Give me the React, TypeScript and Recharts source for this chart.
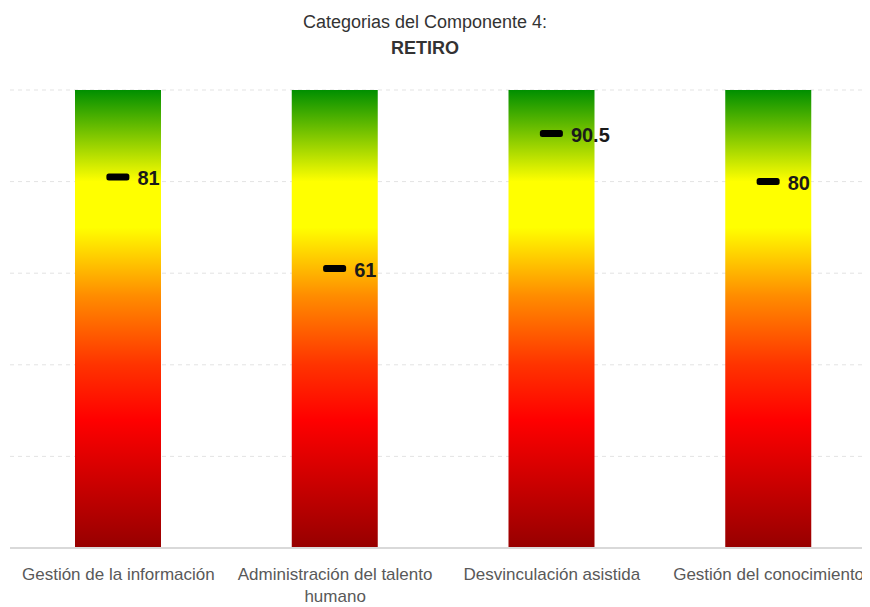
import React from 'react';
import { ComposedChart, Bar, Scatter, XAxis, YAxis, CartesianGrid, Text } from 'recharts';

// Categorías y puntajes (escala 0-100)
const categories = [
  'Gestión de la información',
  'Administración del talento humano',
  'Desvinculación asistida',
  'Gestión del conocimiento',
];
const scores = [81, 61, 90.5, 80];
const scaleMax = [100, 100, 100, 100];
const yTicks = [0, 20, 40, 60, 80, 100];

const data = categories.map((name, i) => ({ name, max: scaleMax[i], value: scores[i] }));

const FONT = '"Liberation Sans Narrow", "Liberation Sans", Arial, sans-serif';

const CategoryTick = (props: any) => {
  const { x, y, payload } = props;
  return (
    <Text
      x={x}
      y={y + 12}
      width={200}
      textAnchor="middle"
      verticalAnchor="start"
      fontFamily={FONT}
      fontSize={17}
      fill="#595959"
      lineHeight={22}
    >
      {payload.value}
    </Text>
  );
};

const Marker = (props: any) => {
  const { cx, cy, payload } = props;
  if (cx == null || cy == null) return null;
  return (
    <g>
      <rect x={cx - 12} y={cy - 3.5} width={23} height={7} rx={2.5} fill="#000" />
      <text
        x={cx + 19}
        y={cy + 1}
        dominantBaseline="central"
        fontFamily={FONT}
        fontWeight="bold"
        fontSize={20}
        fill="#1a1a1a"
      >
        {payload.value}
      </text>
    </g>
  );
};

export default function App() {
  return (
    <div style={{ position: 'relative', width: 862, height: 599, overflow: 'hidden', fontFamily: FONT }}>
      <div
        style={{
          position: 'absolute',
          left: 0,
          width: 834,
          top: 1,
          textAlign: 'center',
          color: '#333',
          fontSize: 18,
          lineHeight: '26px',
        }}
      >
        <div>Categorias del Componente 4:</div>
        <div style={{ fontWeight: 'bold' }}>RETIRO</div>
      </div>
      <ComposedChart
        width={869}
        height={599}
        data={data}
        margin={{ top: 82, right: 0, bottom: 0, left: 2 }}
      >
        <defs>
          <linearGradient id="semaforo" x1="0" y1="0" x2="0" y2="1">
            <stop offset="0%" stopColor="#008f00" />
            <stop offset="20%" stopColor="#ffff00" />
            <stop offset="30%" stopColor="#ffff00" />
            <stop offset="45%" stopColor="#ff8c00" />
            <stop offset="60%" stopColor="#ff3300" />
            <stop offset="72%" stopColor="#ff0000" />
            <stop offset="100%" stopColor="#960000" />
          </linearGradient>
        </defs>
        <CartesianGrid vertical={false} stroke="#e3e3e3" strokeDasharray="4 4" />
        <XAxis
          dataKey="name"
          interval={0}
          height={59}
          tickLine={false}
          axisLine={{ stroke: '#d9d9d9', strokeWidth: 2 }}
          tick={<CategoryTick />}
        />
        <YAxis hide domain={[0, 100]} ticks={yTicks} width={0} />
        <Bar dataKey="max" barSize={86} fill="url(#semaforo)" isAnimationActive={false} />
        <Scatter dataKey="value" shape={<Marker />} isAnimationActive={false} />
      </ComposedChart>
    </div>
  );
}
